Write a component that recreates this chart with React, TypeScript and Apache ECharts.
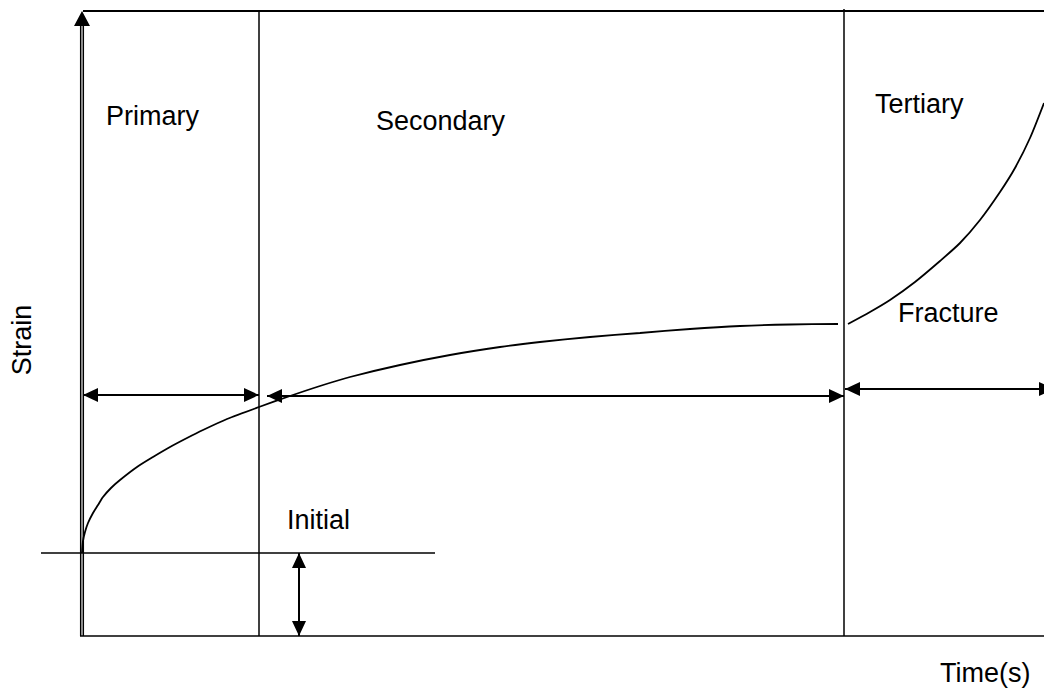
import React, { useEffect, useRef } from "react";
import * as echarts from "echarts";

// Creep curve diagram: time (x) vs strain (y), arbitrary units
const TIME_MIN = -82;
const TIME_MAX = 962;
const STRAIN_MIN = -57;
const STRAIN_MAX = 636;

const frameTopStrain = 625;
const initialStrain = 83;
const phaseBounds = [0, 177, 762, 962]; // primary | secondary | tertiary

// primary + secondary creep (time, strain)
const primarySecondaryCurve: [number, number][] = [
  [0, 83], [1, 95], [3, 104], [6, 113], [11, 123], [16, 131], [21, 139],
  [29, 148], [38, 156], [55, 169], [71, 179], [88, 189], [105, 198],
  [121, 206], [145, 217], [177, 229], [208, 240], [238, 250], [268, 259],
  [318, 271], [368, 281], [418, 289], [458, 294], [508, 299], [558, 303],
  [608, 307], [658, 310], [708, 311.5], [756, 312],
];

// tertiary creep up to fracture
const tertiaryCurve: [number, number][] = [
  [766, 312], [788, 324], [808, 336], [833, 354], [858, 375], [878, 393],
  [898, 416], [918, 444], [933, 468], [948, 498], [962, 533],
];

// plain segments [t1, s1, t2, s2]
const segments: number[][] = [
  [-1.3, 0, -1.3, 610],
  [1.3, 0, 1.3, 610],
  [-2, 0, TIME_MAX, 0],
  [phaseBounds[1], 0, phaseBounds[1], frameTopStrain],
  [phaseBounds[2], 0, phaseBounds[2], 627],
  [-41, initialStrain, 353, initialStrain],
];
const topEdge: number[][] = [[1, frameTopStrain, TIME_MAX, frameTopStrain]];

// double-headed arrows [t1, s1, t2, s2]
const doubleArrows: number[][] = [
  [1, 241, 177, 241],
  [185, 240, 762, 240],
  [763, 247, 972, 247],
  [217, initialStrain, 217, 0],
];

// strain axis arrow [tFrom, sFrom, tTip, sTip]
const axisArrows: number[][] = [[0, 610, 0, frameTopStrain]];

const phaseLabels = ["Primary", "Secondary", "Tertiary", "Fracture", "Initial"];
const xAxisName = "Time(s)";
const yAxisName = "Strain";

const HEAD_LEN = 15;
const HEAD_W = 14;

function headPoly(tip: number[], from: number[]) {
  const dx = tip[0] - from[0];
  const dy = tip[1] - from[1];
  const L = Math.hypot(dx, dy) || 1;
  const ux = dx / L;
  const uy = dy / L;
  const bx = tip[0] - ux * HEAD_LEN;
  const by = tip[1] - uy * HEAD_LEN;
  return {
    type: "polygon",
    shape: {
      points: [
        [tip[0], tip[1]],
        [bx - (uy * HEAD_W) / 2, by + (ux * HEAD_W) / 2],
        [bx + (uy * HEAD_W) / 2, by - (ux * HEAD_W) / 2],
      ],
    },
    style: { fill: "#000" },
  };
}

function segmentSeries(name: string, data: number[][], width: number) {
  return {
    type: "custom",
    name,
    data,
    silent: true,
    renderItem: (_p: any, api: any) => {
      const a = api.coord([api.value(0), api.value(1)]);
      const b = api.coord([api.value(2), api.value(3)]);
      return {
        type: "line",
        shape: { x1: a[0], y1: a[1], x2: b[0], y2: b[1] },
        style: { stroke: "#000", lineWidth: width },
      };
    },
  };
}

export default function App() {
  const ref = useRef<HTMLDivElement>(null);

  useEffect(() => {
    if (!ref.current) return;
    const chart = echarts.init(ref.current, null, { renderer: "svg" });
    const font = '"Liberation Sans", Arial, sans-serif';
    const textStyle = (extra: any) => ({
      fill: "#000",
      fontSize: 27,
      fontFamily: font,
      verticalAlign: "middle",
      ...extra,
    });
    const labelPos: [number, number][] = [
      [106, 116],
      [376, 121],
      [875, 104],
      [898, 313],
      [287, 520],
    ];

    chart.setOption({
      animation: false,
      backgroundColor: "#fff",
      grid: { left: 0, right: 0, top: 0, bottom: 0, containLabel: false },
      xAxis: { type: "value", min: TIME_MIN, max: TIME_MAX, show: false },
      yAxis: { type: "value", min: STRAIN_MIN, max: STRAIN_MAX, show: false },
      series: [
        segmentSeries("frame", segments, 1.5),
        segmentSeries("top", topEdge, 2),
        {
          type: "custom",
          name: "spans",
          data: doubleArrows,
          silent: true,
          renderItem: (_p: any, api: any) => {
            const a = api.coord([api.value(0), api.value(1)]);
            const b = api.coord([api.value(2), api.value(3)]);
            return {
              type: "group",
              children: [
                {
                  type: "line",
                  shape: { x1: a[0], y1: a[1], x2: b[0], y2: b[1] },
                  style: { stroke: "#000", lineWidth: 2 },
                },
                headPoly(a, b),
                headPoly(b, a),
              ],
            };
          },
        },
        {
          type: "custom",
          name: "axisArrow",
          data: axisArrows,
          silent: true,
          renderItem: (_p: any, api: any) => {
            const a = api.coord([api.value(0), api.value(1)]);
            const b = api.coord([api.value(2), api.value(3)]);
            return {
              type: "polygon",
              shape: {
                points: [
                  [b[0], b[1]],
                  [a[0] - 8, a[1]],
                  [a[0] + 8, a[1]],
                ],
              },
              style: { fill: "#000" },
            };
          },
        },
        {
          type: "line",
          name: "creep",
          data: primarySecondaryCurve,
          smooth: 0.25,
          showSymbol: false,
          symbol: "none",
          lineStyle: { color: "#000", width: 1.8 },
          silent: true,
        },
        {
          type: "line",
          name: "tertiary",
          data: tertiaryCurve,
          smooth: 0.25,
          showSymbol: false,
          symbol: "none",
          lineStyle: { color: "#000", width: 1.8 },
          silent: true,
        },
      ],
      graphic: [
        ...phaseLabels.map((t, i) => ({
          type: "text",
          x: labelPos[i][0],
          y: labelPos[i][1],
          style: textStyle({ text: t, align: "left" }),
          silent: true,
        })),
        {
          type: "text",
          x: 940,
          y: 673,
          style: textStyle({ text: xAxisName, align: "left" }),
          silent: true,
        },
        {
          type: "text",
          x: 22,
          y: 340,
          rotation: Math.PI / 2,
          style: textStyle({ text: yAxisName, align: "center" }),
          silent: true,
        },
      ],
    });
    return () => chart.dispose();
  }, []);

  return (
    <div
      ref={ref}
      style={{ position: "fixed", left: 0, top: 0, width: 1044, height: 693 }}
    />
  );
}
